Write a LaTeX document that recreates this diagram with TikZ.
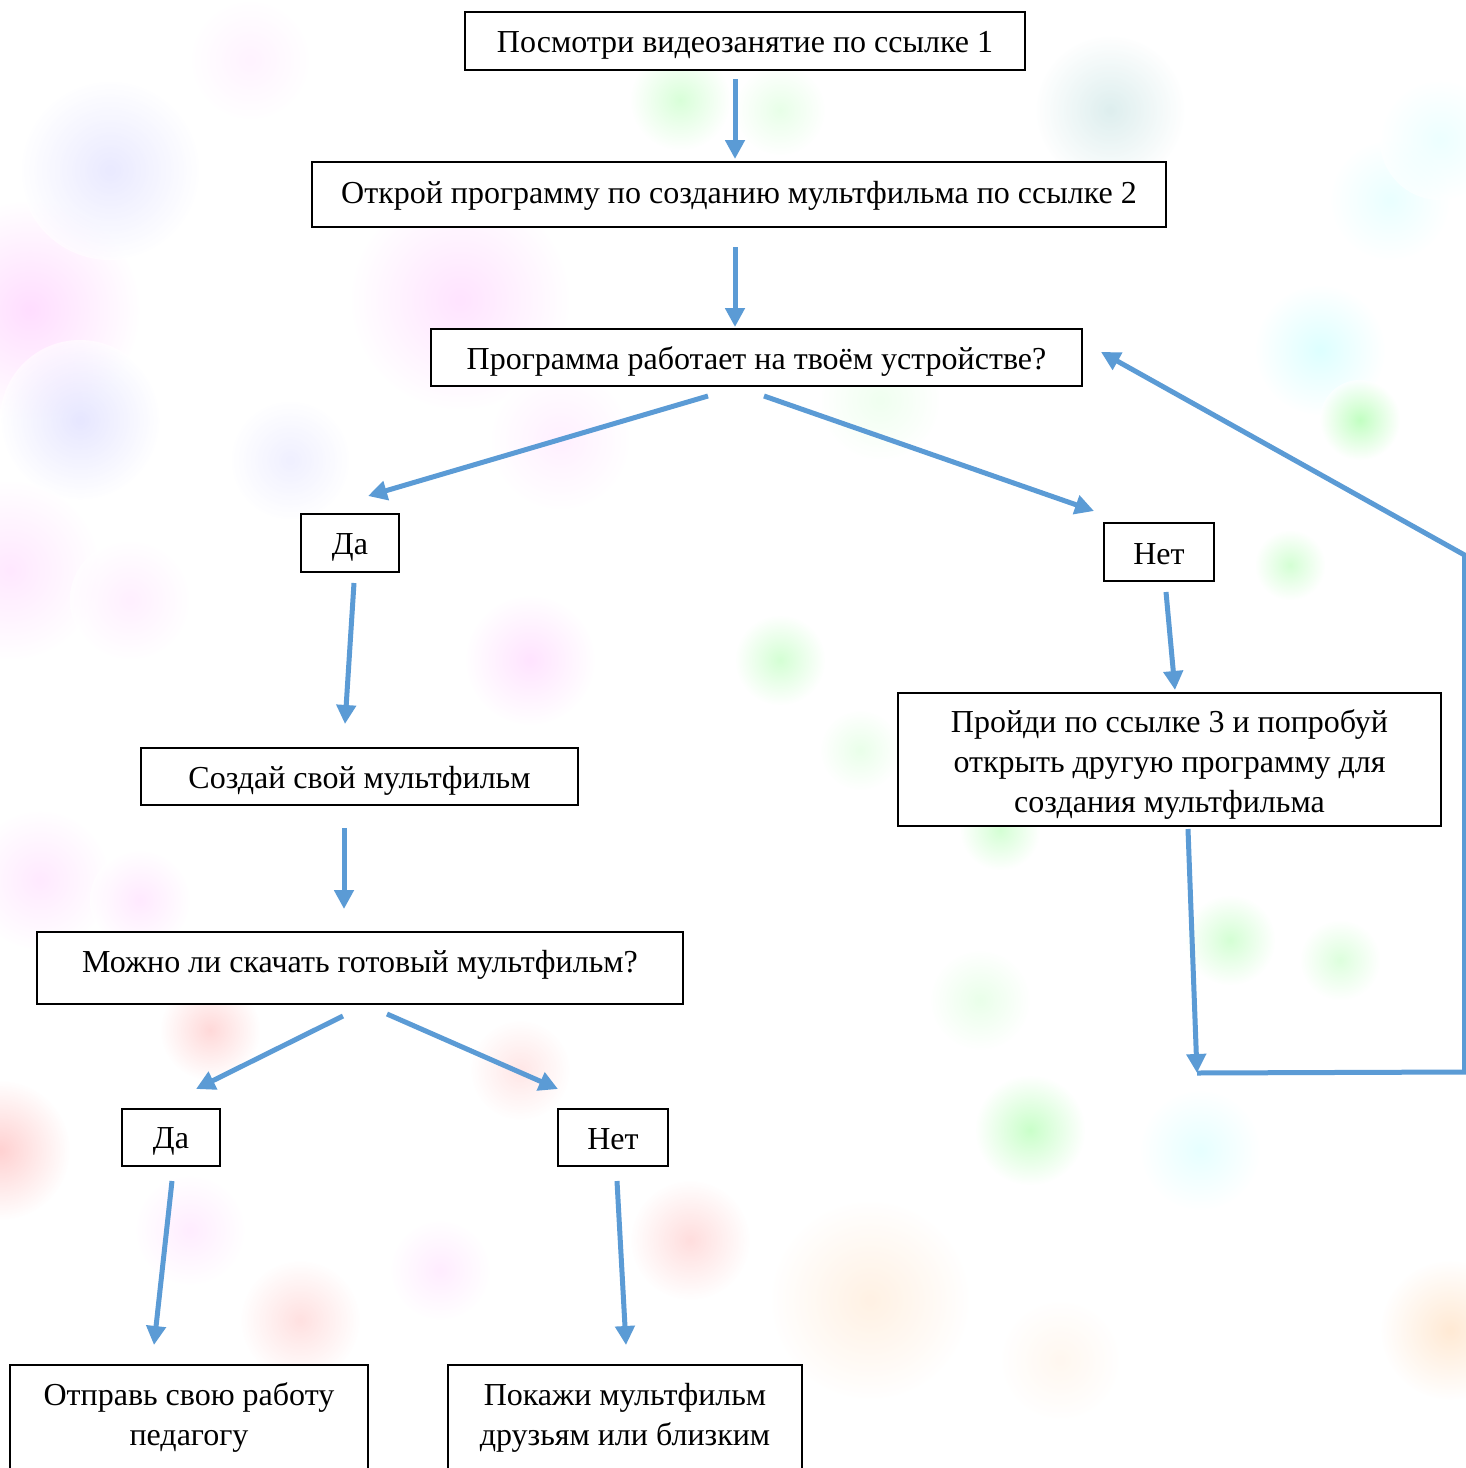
\documentclass[tikz,border=0pt]{standalone}
\usepackage{fontspec}
\setmainfont{Liberation Serif}
\usetikzlibrary{arrows.meta,calc,fit}
\definecolor{arr}{RGB}{91,155,213}
\begin{document}
\begin{tikzpicture}[x=0.5pt,y=-0.5pt,
  box/.style={draw=black,line width=1pt,fill=white,inner sep=0pt},
  lbl/.style={inner sep=0pt,align=center,font=\fontsize{16pt}{20pt}\selectfont},
  flow/.style={draw=arr,line width=2.5pt,-{Triangle[length=9.5pt,width=9.5pt]}},
  bub/.style={opacity=0.6}]
\useasboundingbox (0,0) rectangle (1466,1468);
\fill[white] (0,0) rectangle (1466,1468);
\begin{scope}
\clip (0,0) rectangle (1466,1468);
% background bubbles
\foreach \x/\y/\r/\c in {
  30/310/110/magenta!22, 110/170/90/blue!14, 80/420/80/blue!16, 10/570/90/magenta!15,
  130/600/60/magenta!10, 460/300/110/magenta!18, 560/440/70/magenta!10, 530/660/65/magenta!18,
  290/460/60/blue!10, 680/100/50/green!25, 780/110/45/green!15,
  1110/110/75/teal!22, 1320/350/65/cyan!22, 1390/200/60/cyan!14, 1360/420/40/green!40,
  1290/565/35/green!28, 780/660/45/green!28, 1000/830/40/green!28, 860/750/40/green!14,
  1230/940/45/green!28, 1340/960/40/green!22, 980/1000/50/green!14,
  1030/1130/55/green!35, 1200/1150/60/cyan!16, 210/1030/50/red!25, 300/1320/60/red!20,
  190/1230/55/magenta!12, 440/1270/50/magenta!12, 690/1240/60/red!22, 520/1070/50/red!16,
  0/1150/70/red!30, 40/880/70/magenta!14, 140/900/50/magenta!14,
  870/1300/100/orange!18, 1450/1330/70/orange!28, 1440/140/60/cyan!12, 880/400/60/green!10,
  1060/1360/60/orange!10, 250/60/60/magenta!8}
  {\shade[bub,inner color=\c,outer color=white] (\x,\y) circle (\r);}
\end{scope}

% boxes
\node[box,fit={(465,12) (1025,70)}] (n1) {};
\node[box,fit={(312,162) (1166,227)}] (n2) {};
\node[box,fit={(431,329) (1082,386)}] (n3) {};
\node[box,fit={(301,514) (399,572)}] (n4) {};
\node[box,fit={(1104,523) (1214,581)}] (n5) {};
\node[box,fit={(898,693) (1441,826)}] (n6) {};
\node[box,fit={(141,748) (578,805)}] (n7) {};
\node[box,fit={(37,932) (683,1004)}] (n8) {};
\node[box,fit={(122,1109) (220,1166)}] (n9) {};
\node[box,fit={(558,1109) (668,1166)}] (n10) {};
\node[box,fit={(10,1365) (368,1520)}] (n11) {};
\node[box,fit={(448,1365) (802,1520)}] (n12) {};

% texts
\node[lbl] (t1) at ($(n1.center)+(0,4)$) {Посмотри видеозанятие по ссылке 1};
\node[lbl] (t2) at ($(n2.center)+(0,1)$) {Открой программу по созданию мультфильма по ссылке 2};
\node[lbl] (t3) at ($(n3.center)+(0,4)$) {Программа работает на твоём устройстве?};
\node[lbl] (t4) at ($(n4.center)+(0,4)$) {Да};
\node[lbl] (t5) at ($(n5.center)+(0,2)$) {Нет};
\node[lbl] (t6) at ($(n6.center)+(0,5)$) {Пройди по ссылке 3 и попробуй\\открыть другую программу для\\создания мультфильма};
\node[lbl] (t7) at ($(n7.center)+(0,4)$) {Создай свой мультфильм};
\node[lbl] (t8) at ($(n8.center)+(0,-3)$) {Можно ли скачать готовый мультфильм?};
\node[lbl] (t9) at ($(n9.center)+(0,4)$) {Да};
\node[lbl] (t10) at ($(n10.center)+(0,2)$) {Нет};
\node[lbl] (t11) at (189,1417.5) {Отправь свою работу\\педагогу};
\node[lbl] (t12) at (625,1417.5) {Покажи мультфильм\\друзьям или близким};

% connectors
\draw[flow] ($(n1.south)+(-10,8)$) -- ($(n2.north)+(-4,-2)$);
\draw[flow] ($(n2.south)+(-4,19)$) -- ($(n3.north)+(-21.5,-1)$);
\draw[flow] ($(n3.south)+(-48.5,9)$) -- ($(n4.north)+(18,-17)$);
\draw[flow] ($(n3.south)+(7.5,9)$) -- ($(n5.north)+(-65,-11)$);
\draw[flow] ($(n4.south)+(4,10)$) -- ($(n7.north)+(-14.5,-23)$);
\draw[flow] ($(n5.south)+(7,10)$) -- ($(n6.north)+(5.5,-2)$);
\draw[flow] ($(n7.south)+(-15.5,22)$) -- ($(n8.north)+(-16,-22)$);
\draw[flow] ($(n8.south)+(-17,11)$) -- ($(n9.north)+(25,-19)$);
\draw[flow] ($(n8.south)+(27,9)$) -- ($(n10.north)+(-55,-19)$);
\draw[flow] ($(n9.south)+(1,14)$) -- ($(n11.north)+(-35,-19)$);
\draw[flow] ($(n10.south)+(4,14)$) -- ($(n12.north)+(1,-19)$);
\coordinate (corner) at ($(n6.south)+(27.5,246)$);
\draw[flow] ($(n6.south)+(18.5,2)$) -- (corner);
\coordinate (rb) at (1464.5,1072);
\coordinate (rt) at (1464.5,555);
\begin{scope}
\clip (0,0) rectangle (1466,1468);
\draw[flow] (corner) -- (rb) -- (rt) -- ($(n3.east)+(18,-5.5)$);
\end{scope}
\end{tikzpicture}
\end{document}
